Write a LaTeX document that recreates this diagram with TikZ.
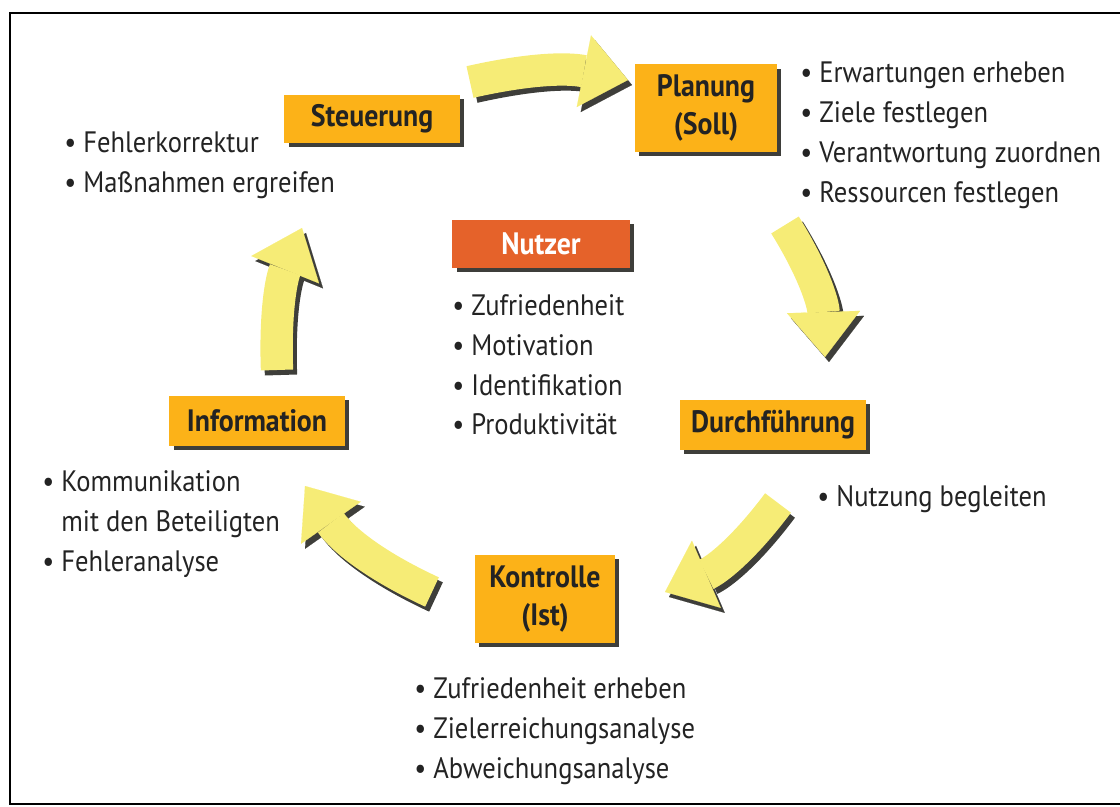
\documentclass[tikz,border=0pt]{standalone}
\usepackage{fontspec}
\setmainfont[FakeStretch=0.9]{PT Sans}
\usetikzlibrary{arrows.meta,shadows}
\definecolor{boxorange}{RGB}{252,178,24}
\definecolor{nutzerrot}{RGB}{229,98,42}
\definecolor{pfeilgelb}{RGB}{246,236,118}
\definecolor{schatten}{RGB}{62,62,58}
\definecolor{schrift}{RGB}{35,35,35}
\tikzset{
  phasebox/.style={fill=boxorange, text=schrift, align=center, inner sep=0pt,
    minimum height=1.2cm, font=\bfseries\fontsize{22}{27}\selectfont,
    general shadow={fill=schatten, shadow xshift=3pt, shadow yshift=-3pt}},
  listbox/.style={anchor=north west, align=left, inner sep=0pt, text=schrift,
    font=\fontsize{21}{28.4}\selectfont},
  arrowbody/.style={draw=pfeilgelb, line width=23pt,
    -{Triangle[length=32pt,width=52pt,line width=0.1pt]}},
  arrowshade/.style={arrowbody, draw=schatten}
}
\def\phase{\node[phasebox]}
\def\liste{\node[listbox]}
\def\bigarrow#1#2#3{%
  \draw[arrowshade] ([shift={(4,5)}]#1) to[bend left=#3] ([shift={(4,5)}]#2);
  \draw[arrowbody] (#1) to[bend left=#3] (#2);}

\begin{document}
\begin{tikzpicture}[x=0.025cm,y=-0.025cm]
\useasboundingbox (0,0) rectangle (1120,807);
\draw[line width=1.5pt] (1120,13) -- (10,13) -- (10,804) -- (1120,804);

% phases
\phase[minimum width=4.375cm] (steuerung) at (372,119) {Steuerung};
\phase[minimum width=3.55cm, minimum height=2.175cm] (planung) at (706,108) {Planung\\(Soll)};
\phase[minimum width=4.65cm, minimum height=1.25cm] (durch) at (773,425) {Durchführung};
\phase[minimum width=3.5cm, minimum height=2.2cm] (kontrolle) at (545,599) {Kontrolle\\(Ist)};
\phase[minimum width=4.375cm, minimum height=1.25cm] (info) at (257,421) {Information};
\phase[minimum width=4.425cm, fill=nutzerrot, text=white] (nutzer) at (541,244) {Nutzer};

% lists
\liste (lplanung) at (800,62) {\textbullet\ Erwartungen erheben\\ \textbullet\ Ziele festlegen\\
  \textbullet\ Verantwortung zuordnen\\ \textbullet\ Ressourcen festlegen};
\liste (lsteuerung) at (64,132) {\textbullet\ Fehlerkorrektur\\ \textbullet\ Maßnahmen ergreifen};
\liste (lnutzer) at (452,294) {\textbullet\ Zufriedenheit\\ \textbullet\ Motivation\\
  \textbullet\ Identifikation\\ \textbullet\ Produktivität};
\liste (linfo) at (42,470) {\textbullet\ Kommunikation\\ \hphantom{\textbullet\ }mit den Beteiligten\\
  \textbullet\ Fehleranalyse};
\liste (ldurch) at (817,485) {\textbullet\ Nutzung begleiten};
\liste (lkontrolle) at (414,677) {\textbullet\ Zufriedenheit erheben\\ \textbullet\ Zielerreichungsanalyse\\
  \textbullet\ Abweichungsanalyse};

% cycle arrows
\coordinate (a1) at (470,82);  \coordinate (b1) at (628,80);
\coordinate (a2) at (785,225); \coordinate (b2) at (825,357);
\coordinate (a3) at (778,503); \coordinate (b3) at (665,592);
\coordinate (a4) at (432,592); \coordinate (b4) at (305,486);
\coordinate (a5) at (277,370); \coordinate (b5) at (302,228);
\bigarrow{a1}{b1}{12}
\bigarrow{a2}{b2}{15}
\bigarrow{a3}{b3}{15}
\bigarrow{a4}{b4}{15}
\bigarrow{a5}{b5}{12}
\end{tikzpicture}
\end{document}
